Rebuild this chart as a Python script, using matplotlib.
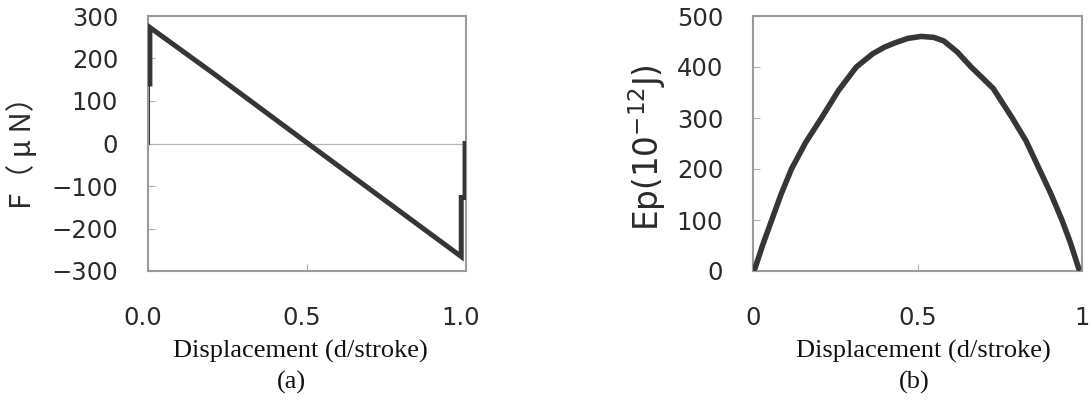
import matplotlib
matplotlib.use("Agg")
import matplotlib.pyplot as plt
from matplotlib.transforms import ScaledTranslation

# ---- data ----
f_x = [0.006, 0.006, 0.2, 0.503, 0.8, 0.985, 0.985, 0.997, 0.997]
f_y = [140, 273, 168, 0, -164, -266, -127, -127, 0]
f_start_x = [0.004, 0.004]
f_start_y = [0, 140]

ep_x = [0.006, 0.03, 0.057, 0.085, 0.117, 0.16, 0.208, 0.26, 0.314, 0.364, 0.40, 0.43, 0.47,
        0.511, 0.55, 0.58, 0.62, 0.663, 0.695, 0.73, 0.788, 0.83, 0.87, 0.905, 0.939, 0.965, 0.99]
ep_y = [5, 52, 100, 150, 200, 252, 300, 354, 400, 426, 439, 447, 456,
        460, 458, 451, 430, 400, 380, 358, 300, 255, 200, 152, 100, 55, 5]

f_yticks = [-300, -200, -100, 0, 100, 200, 300]
f_xticks = [0.0, 0.5, 1.0]
f_xticklabels = ["0.0", "0.5", "1.0"]
ep_yticks = [0, 100, 200, 300, 400, 500]
ep_xticks = [0, 0.5, 1]
ep_xticklabels = ["0", "0.5", "1"]

W, H = 1091, 401
fig = plt.figure(figsize=(W / 100, H / 100), dpi=100)

def px_axes(x0, x1, ytop, ybot):
    return fig.add_axes([x0 / W, (H - ybot) / H, (x1 - x0) / W, (ybot - ytop) / H])

line_c = "#363636"
spine_c = "#9a9a9a"
tick_c = "#2a2a2a"

def style(ax):
    for s in ax.spines.values():
        s.set_color(spine_c)
        s.set_linewidth(1.5)
    ax.tick_params(direction="in", length=5, width=0.8, color="#b0b0b0",
                   labelsize=17.5, labelcolor=tick_c)
    ax.tick_params(axis="y", pad=21.5)
    ax.tick_params(axis="x", pad=25)
    for lab in ax.get_xticklabels() + ax.get_yticklabels():
        lab.set_fontfamily("DejaVu Sans")

# ---- panel (a) ----
ax1 = px_axes(148, 466, 16, 271)
ax1.axhline(0, color="#b5b5b5", lw=0.9, zorder=1)
ax1.plot(f_start_x, f_start_y, color=line_c, lw=1.5, zorder=2)
ax1.plot(f_x, f_y, color=line_c, lw=3.6, solid_joinstyle="miter", zorder=3)
ax1.set_xlim(0, 1.0)
ax1.set_ylim(-300, 300)
ax1.set_yticks(f_yticks)
ax1.set_xticks(f_xticks)
ax1.set_xticklabels(f_xticklabels)
style(ax1)
for lab in ax1.get_xticklabels():
    lab.set_transform(lab.get_transform() + ScaledTranslation(-5 / 100, 0, fig.dpi_scale_trans))

# ---- panel (b) ----
ax2 = px_axes(753, 1082, 16, 271)
ax2.plot(ep_x, ep_y, color=line_c, lw=4.0, solid_capstyle="round",
         solid_joinstyle="round", zorder=3)
ax2.set_xlim(0, 1)
ax2.set_ylim(0, 500)
ax2.set_yticks(ep_yticks)
ax2.set_xticks(ep_xticks)
ax2.set_xticklabels(ep_xticklabels)
style(ax2)

# ---- labels ----
def ftext(x, y, s, **kw):
    return fig.text(x / W, (H - y) / H, s, **kw)

ftext(23, 146, "F（ μ N）", rotation=90, ha="center", va="center", fontsize=21,
      color=tick_c, family=["Noto Sans CJK JP", "DejaVu Sans"])
ftext(647, 148, r"Ep(10$^{\mathregular{-12}}$J)", rotation=90, ha="center", va="center",
      fontsize=23.5, color=tick_c, family=["DejaVu Sans"])

serif = ["Liberation Serif", "DejaVu Serif"]
ftext(300, 358, "Displacement (d/stroke)", ha="center", va="baseline", fontsize=19,
      family=serif, color="#111111")
ftext(291, 389, "(a)", ha="center", va="baseline", fontsize=19, family=serif, color="#111111")
ftext(923, 358, "Displacement (d/stroke)", ha="center", va="baseline", fontsize=19,
      family=serif, color="#111111")
ftext(914, 389, "(b)", ha="center", va="baseline", fontsize=19, family=serif, color="#111111")

fig.savefig("out.png", dpi=100, facecolor="white")
